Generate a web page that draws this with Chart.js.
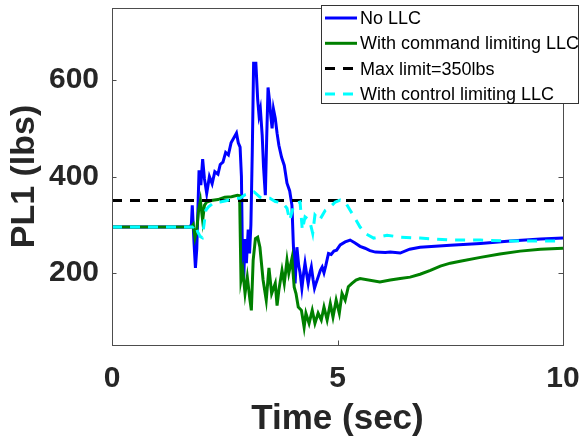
<!DOCTYPE html>
<html>
<head>
<meta charset="utf-8">
<script src="https://cdn.jsdelivr.net/npm/chart.js@4.4.1/dist/chart.umd.min.js"></script>
<style>
  body { margin: 0; background: #fff; }
  canvas { display: block; }
</style>
</head>
<body>
<canvas id="myChart" width="582" height="443"></canvas>
<script>
// values
var xTicks = [0, 5, 10];
var yTicks = [200, 400, 600];

var noLlcT = [0, 1.72, 1.76, 1.78, 1.82, 1.85, 1.88, 1.93, 1.97, 2.01, 2.05, 2.10, 2.16, 2.22, 2.28, 2.35, 2.40, 2.46, 2.52, 2.58, 2.64, 2.70, 2.76, 2.80, 2.84, 2.87, 2.89, 2.92, 2.95, 2.98, 3.02, 3.05, 3.08, 3.11, 3.14, 3.19, 3.23, 3.26, 3.29, 3.33, 3.36, 3.40, 3.43, 3.46, 3.49, 3.52, 3.55, 3.58, 3.62, 3.66, 3.70, 3.76, 3.82, 3.88, 3.94, 3.99, 4.02, 4.06, 4.10, 4.14, 4.17, 4.21, 4.25, 4.28, 4.32, 4.35, 4.39, 4.42, 4.46, 4.49, 4.53, 4.57, 4.62, 4.66, 4.70, 4.74, 4.80, 4.86, 4.92, 4.98, 5.06, 5.17, 5.28, 5.39, 5.50, 5.61, 5.72, 5.84, 6.06, 6.17, 6.39, 6.60, 6.83, 7.50, 8.17, 8.83, 9.50, 10];
var noLlcV = [295, 295, 300, 340, 260, 210, 250, 413, 382, 436, 395, 365, 400, 385, 410, 405, 425, 430, 450, 445, 470, 480, 490, 470, 461, 400, 250, 185, 270, 220, 290, 240, 300, 450, 635, 635, 560, 527, 540, 486, 420, 361, 480, 585, 560, 527, 500, 540, 521, 490, 465, 440, 423, 386, 370, 340, 261, 178, 253, 215, 200, 168, 200, 220, 195, 178, 200, 212, 185, 168, 180, 191, 205, 212, 200, 215, 240, 238, 245, 247, 258, 264, 268, 262, 255, 251, 246, 243, 242, 243, 241, 249, 253, 257, 261, 266, 270, 272];

var cmdLlcT = [0, 1.76, 1.80, 1.84, 1.88, 1.92, 1.96, 2.01, 2.05, 2.10, 2.20, 2.35, 2.50, 2.65, 2.78, 2.83, 2.86, 2.90, 2.95, 3.00, 3.06, 3.09, 3.13, 3.18, 3.23, 3.28, 3.35, 3.42, 3.48, 3.54, 3.62, 3.66, 3.70, 3.77, 3.82, 3.88, 3.92, 3.99, 4.04, 4.08, 4.13, 4.20, 4.26, 4.30, 4.37, 4.44, 4.50, 4.57, 4.64, 4.70, 4.77, 4.84, 4.90, 4.97, 5.04, 5.10, 5.17, 5.24, 5.32, 5.41, 5.50, 5.94, 6.17, 6.39, 6.61, 6.83, 7.06, 7.28, 7.50, 7.72, 8.17, 8.60, 9.05, 9.50, 10];
var cmdLlcV = [295, 295, 300, 273, 290, 330, 350, 309, 340, 347, 350, 352, 357, 358, 361, 360, 185, 205, 157, 191, 143, 122, 226, 271, 274, 253, 185, 143, 210, 157, 178, 132, 164, 205, 178, 226, 199, 230, 170, 157, 129, 122, 87, 116, 95, 122, 95, 116, 102, 129, 102, 136, 108, 143, 116, 157, 143, 171, 178, 185, 188, 181, 185, 188, 191, 197, 205, 214, 220, 224, 232, 239, 245, 249, 251];

var limitT = [0, 10];
var limitV = [350, 350];

var ctlLlcT = [0, 1.80, 1.85, 1.90, 1.96, 2.00, 2.04, 2.08, 2.14, 2.25, 2.40, 2.55, 2.70, 2.84, 2.95, 3.06, 3.15, 3.28, 3.40, 3.50, 3.62, 3.78, 3.88, 3.94, 4.02, 4.10, 4.17, 4.22, 4.28, 4.38, 4.45, 4.50, 4.60, 4.73, 4.84, 4.95, 5.06, 5.17, 5.28, 5.39, 5.50, 5.61, 5.80, 6.10, 6.39, 6.83, 7.50, 8.17, 8.83, 9.50, 10];
var ctlLlcV = [295, 295, 300, 285, 275, 273, 300, 330, 337, 345, 347, 350, 355, 355, 362, 365, 368, 357, 355, 355, 348, 345, 334, 309, 337, 345, 347, 289, 316, 309, 282, 320, 309, 330, 337, 347, 351, 347, 330, 313, 295, 282, 272, 278, 274, 272, 268, 268, 266, 266, 266];

function pts(t, v) {
  var out = [];
  for (var i = 0; i < t.length; i++) {
    out.push({ x: t[i], y: v[i] });
  }
  return out;
}

var txtColor = "#262626";
var fontFam = "'Liberation Sans', Arial, Helvetica, sans-serif";

// MATLAB style box, inward ticks
var boxPlugin = {
  id: "box",
  afterDatasetsDraw: function(chart) {
    var ctx = chart.ctx;
    var a = chart.chartArea;
    var xs = chart.scales.x, ys = chart.scales.y;
    ctx.save();
    ctx.strokeStyle = "#4d4d4d";
    ctx.lineWidth = 1;
    ctx.strokeRect(Math.round(a.left) + 0.5, Math.round(a.top) + 0.5, Math.round(a.right - a.left), Math.round(a.bottom - a.top));
    ctx.beginPath();
    xTicks.forEach(function(v) {
      var px = Math.round(xs.getPixelForValue(v)) + 0.5;
      ctx.moveTo(px, a.bottom); ctx.lineTo(px, a.bottom - 4.5);
      ctx.moveTo(px, a.top); ctx.lineTo(px, a.top + 4.5);
    });
    yTicks.forEach(function(v) {
      var py = Math.round(ys.getPixelForValue(v)) + 0.5;
      ctx.moveTo(a.left, py); ctx.lineTo(a.left + 4.5, py);
      ctx.moveTo(a.right, py); ctx.lineTo(a.right - 4.5, py);
    });
    ctx.stroke();
    ctx.restore();
  },
  afterDraw: function(chart) {
    // legend box, drawn over the top right corner like MATLAB
    var ctx = chart.ctx;
    var bx = 321.5, by = 5.5, bw = 257, bh = 98;
    ctx.save();
    ctx.fillStyle = "#fff";
    ctx.fillRect(bx, by, bw, bh);
    ctx.strokeStyle = "#333";
    ctx.lineWidth = 1;
    ctx.strokeRect(bx, by, bw, bh);
    ctx.font = "18px " + fontFam;
    ctx.textBaseline = "middle";
    ctx.fillStyle = "#000";
    chart.data.datasets.forEach(function(ds, i) {
      var y = 18 + i * 25.3;
      ctx.beginPath();
      ctx.strokeStyle = ds.borderColor;
      ctx.lineWidth = ds.borderWidth;
      ctx.setLineDash(ds.borderDash || []);
      ctx.moveTo(325, y);
      ctx.lineTo(357, y);
      ctx.stroke();
      ctx.setLineDash([]);
      ctx.fillText(ds.label, 360, y + 1);
    });
    ctx.restore();
  }
};

var ctx = document.getElementById("myChart");

var chart = new Chart(ctx, {
  type: "line",
  data: {
    datasets: [
      { label: "No LLC", data: pts(noLlcT, noLlcV), borderColor: "#0000ff", borderWidth: 3, order: 4 },
      { label: "With command limiting LLC", data: pts(cmdLlcT, cmdLlcV), borderColor: "#008000", borderWidth: 3, order: 3 },
      { label: "Max limit=350lbs", data: pts(limitT, limitV), borderColor: "#000000", borderWidth: 3, borderDash: [10, 8], order: 2 },
      { label: "With control limiting LLC", data: pts(ctlLlcT, ctlLlcV), borderColor: "#00ffff", borderWidth: 3, borderDash: [10, 8], order: 1 }
    ]
  },
  options: {
    responsive: false,
    animation: false,
    devicePixelRatio: 1,
    layout: { padding: { left: 0, right: 19, top: 8, bottom: 0 } },
    elements: { point: { radius: 0 }, line: { tension: 0, fill: false } },
    plugins: { legend: { display: false }, tooltip: { enabled: false } },
    scales: {
      x: {
        type: "linear",
        min: 0,
        max: 10,
        afterBuildTicks: function(s) { s.ticks = xTicks.map(function(v) { return { value: v }; }); },
        afterFit: function(s) {
          s.height = 443 - 345;
          s.paddingLeft = 0; s.paddingRight = 0;
        },
        grid: { display: false, drawTicks: false },
        border: { display: false },
        ticks: { autoSkip: false, maxRotation: 0, padding: 16, color: txtColor, font: { family: fontFam, size: 30, weight: "bold" } },
        title: { display: true, text: "Time (sec)", color: txtColor, padding: { top: 0, bottom: 6 }, font: { family: fontFam, size: 35, weight: "bold", lineHeight: 1 } }
      },
      y: {
        min: 50,
        max: 750,
        afterBuildTicks: function(s) { s.ticks = yTicks.map(function(v) { return { value: v }; }); },
        afterFit: function(s) {
          s.width = 112;
          s.paddingTop = 0; s.paddingBottom = 0;
        },
        grid: { display: false, drawTicks: false },
        border: { display: false },
        ticks: { autoSkip: false, padding: 13, color: txtColor, font: { family: fontFam, size: 30, weight: "bold" } },
        title: { display: true, text: "PL1 (lbs)", color: txtColor, padding: { top: 8, bottom: 0 }, font: { family: fontFam, size: 34, weight: "bold", lineHeight: 1 } }
      }
    }
  },
  plugins: [boxPlugin]
});
</script>
</body>
</html>
